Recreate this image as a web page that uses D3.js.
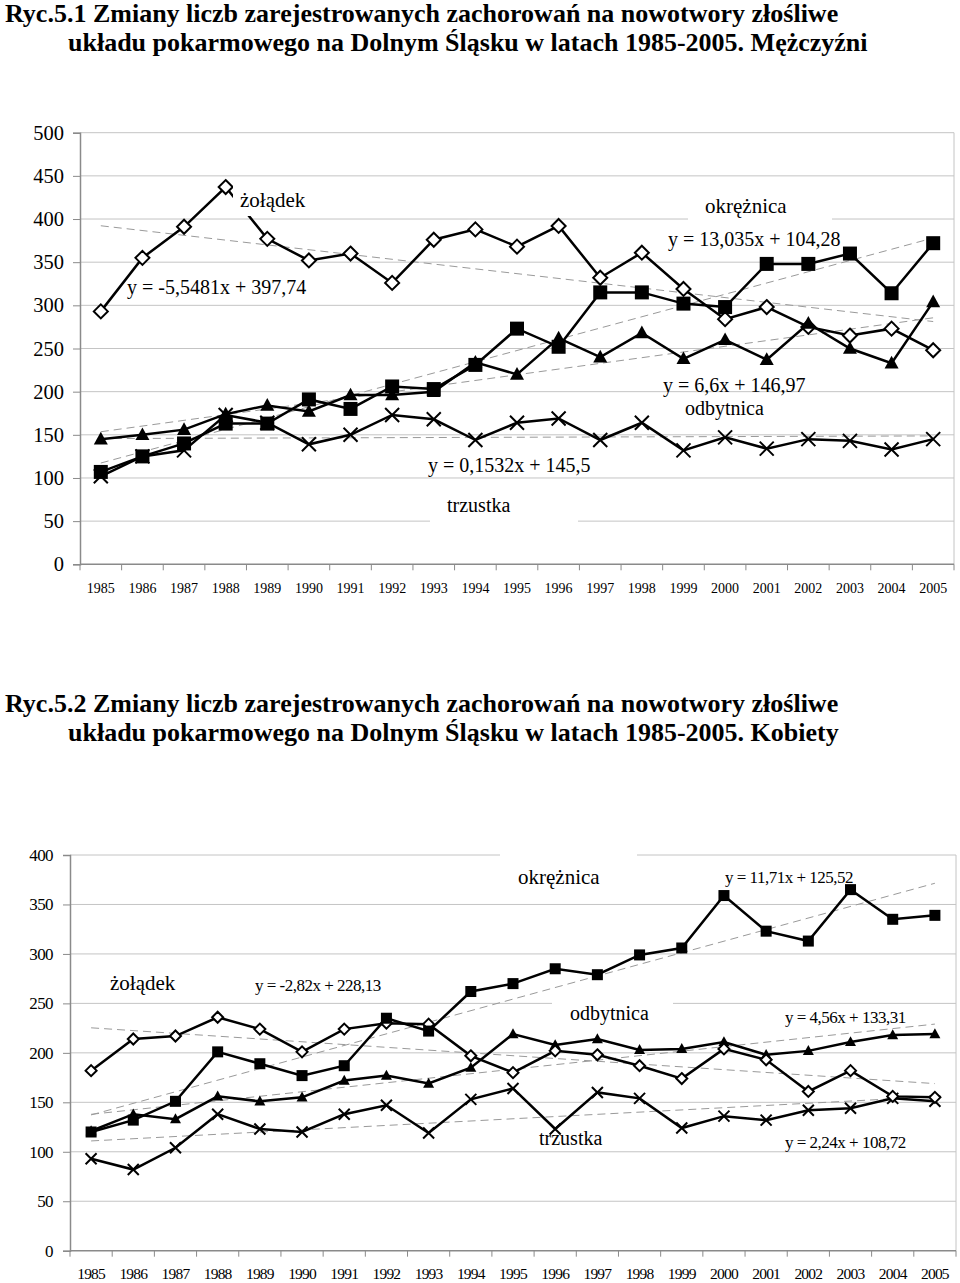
<!DOCTYPE html>
<html><head><meta charset="utf-8">
<script src="https://cdn.jsdelivr.net/npm/d3@7"></script>
<style>body{margin:0;background:#fff}svg{display:block}text{font-family:"Liberation Serif","Times New Roman",serif;fill:#000}</style>
</head><body><svg id="c" width="960" height="1283"></svg>
<script>
const years = d3.range(1985, 2006).map(String);

// Chart 1 – Mężczyźni
const m_zoladek = [293,355,391,437,377,352,360,326,376,388,368,392,332,361,319,284,298,275,265,273,248];
const m_okreznica = [107,125,140,163,163,191,180,206,203,231,273,252,315,315,302,298,348,348,360,314,372];
const m_odbytnica = [145,150,156,174,184,177,196,196,200,234,220,262,240,268,238,260,237,279,250,233,304];
const m_trzustka = [102,125,132,173,164,139,150,173,168,144,164,169,144,164,132,147,134,145,143,133,145];
const m_trend = {zoladek:[-5.5481,397.74], okreznica:[13.035,104.28], odbytnica:[6.6,146.97], trzustka:[0.1532,145.5]};
const m_yticks = [0,50,100,150,200,250,300,350,400,450,500];

// Chart 2 – Kobiety
const k_zoladek = [182,214,217,236,224,201,224,230,229,197,180,202,198,187,174,204,193,161,182,156,155];
const k_okreznica = [120,132,151,201,189,177,187,235,222,262,270,285,279,299,306,359,323,313,365,335,339];
const k_odbytnica = [121,138,133,156,151,155,172,177,169,185,219,208,214,203,204,211,198,202,211,218,219];
const k_trzustka = [93,82,104,138,123,120,138,147,119,153,164,123,160,154,124,136,132,142,144,154,151];
const k_trend = {zoladek:[-2.82,228.13], okreznica:[11.71,125.52], odbytnica:[4.56,133.31], trzustka:[2.24,108.72]};
const k_yticks = [0,50,100,150,200,250,300,350,400];

const svg = d3.select("#c");

function marker(g, type, cx, cy, r){
  if(type==="diamond"){
    g.append("path").attr("d",`M${cx},${cy-r}L${cx+r},${cy}L${cx},${cy+r}L${cx-r},${cy}Z`)
     .attr("fill","#fff").attr("stroke","#000").attr("stroke-width",2);
  } else if(type==="square"){
    g.append("rect").attr("x",cx-r).attr("y",cy-r).attr("width",2*r).attr("height",2*r).attr("fill","#000");
  } else if(type==="triangle"){
    g.append("path").attr("d",`M${cx},${cy-r*1.05}L${cx+r},${cy+r*0.75}L${cx-r},${cy+r*0.75}Z`).attr("fill","#000");
  } else {
    g.append("path").attr("d",`M${cx-r},${cy-r}L${cx+r},${cy+r}M${cx+r},${cy-r}L${cx-r},${cy+r}`)
     .attr("stroke","#000").attr("stroke-width",2).attr("fill","none");
  }
}

function chart(o){
  const x = d3.scaleBand().domain(years).range([o.left,o.right]);
  const y = d3.scaleLinear().domain([0,o.ymax]).range([o.bottom,o.top]);
  const g = svg.append("g");
  g.selectAll(".gl").data(o.yticks.filter(t=>t>0)).join("line")
   .attr("x1",o.left).attr("x2",o.right).attr("y1",d=>y(d)).attr("y2",d=>y(d))
   .attr("stroke","#c4c4c4").attr("stroke-width",1);
  g.append("line").attr("x1",o.right).attr("x2",o.right).attr("y1",o.top).attr("y2",o.bottom).attr("stroke","#c4c4c4");
  const ya = g.append("g").attr("transform",`translate(${o.left},0)`)
    .call(d3.axisLeft(y).tickValues(o.yticks).tickSize(7).tickPadding(o.ypad));
  ya.select(".domain").attr("stroke","#8a8a8a").attr("stroke-width",1.5);
  ya.selectAll(".tick line").attr("stroke","#8a8a8a");
  ya.selectAll("text").attr("font-family","Liberation Serif").attr("font-size",o.yfs).attr("letter-spacing",o.yls);
  g.append("line").attr("x1",o.left).attr("x2",o.right).attr("y1",o.bottom).attr("y2",o.bottom).attr("stroke","#8a8a8a").attr("stroke-width",1.5);
  g.selectAll(".xt").data(years.concat(["end"])).join("line")
   .attr("x1",d=>d==="end"?o.right:x(d)).attr("x2",d=>d==="end"?o.right:x(d))
   .attr("y1",o.bottom).attr("y2",o.bottom+6).attr("stroke","#8a8a8a");
  g.selectAll(".xl").data(years).join("text")
   .attr("x",d=>x(d)+x.bandwidth()/2).attr("y",o.xly).attr("text-anchor","middle")
   .attr("font-size",o.xfs).attr("letter-spacing",o.xls).text(d=>d);
  const cx = d=>x(d)+x.bandwidth()/2;
  Object.values(o.trend).forEach(([a,b])=>{
    g.append("line").attr("x1",cx(years[0])).attr("x2",cx(years[20]))
     .attr("y1",y(a*1+b)).attr("y2",y(a*21+b))
     .attr("stroke","#9a9a9a").attr("stroke-width",1).attr("stroke-dasharray","8,5");
  });
  (o.boxesBehind||[]).forEach(b=>g.append("rect").attr("x",b[0]).attr("y",b[1]).attr("width",b[2]).attr("height",b[3]).attr("fill","#fff"));
  o.series.forEach(s=>{
    const line = d3.line().x((d,i)=>cx(years[i])).y(d=>y(d));
    g.append("path").attr("d",line(s.data)).attr("fill","none").attr("stroke","#000").attr("stroke-width",2.5);
    s.data.forEach((d,i)=>marker(g,s.type,cx(years[i]),y(d),o.msize));
  });
  (o.boxesFront||[]).forEach(b=>g.append("rect").attr("x",b[0]).attr("y",b[1]).attr("width",b[2]).attr("height",b[3]).attr("fill","#fff"));
  o.labels.forEach(l=>g.append("text").attr("x",l[0]).attr("y",l[1]).attr("font-size",l[3]).attr("letter-spacing",l[4]||0).attr("dominant-baseline","central").text(l[2]));
}

function title(y1, t1, t2){
  svg.append("text").attr("x",5).attr("y",y1).attr("font-size",26).attr("font-weight","bold").text(t1);
  svg.append("text").attr("x",68).attr("y",y1+29).attr("font-size",26).attr("font-weight","bold").text(t2);
}
title(22,"Ryc.5.1 Zmiany liczb zarejestrowanych zachorowań na nowotwory złośliwe","układu pokarmowego na Dolnym Śląsku w latach 1985-2005. Mężczyźni");
title(712,"Ryc.5.2 Zmiany liczb zarejestrowanych zachorowań na nowotwory złośliwe","układu pokarmowego na Dolnym Śląsku w latach 1985-2005. Kobiety");

chart({left:80,right:954,top:132.7,bottom:564.3,ymax:500,yticks:m_yticks,yfs:20.5,yls:0,ypad:9,
  xfs:14,xls:0,xly:593,msize:7,trend:m_trend,
  series:[{type:"diamond",data:m_zoladek},{type:"x",data:m_trzustka},{type:"triangle",data:m_odbytnica},{type:"square",data:m_okreznica}],
  boxesBehind:[[430,483,148,44]],
  boxesFront:[[233,186,80,30],[688,186,144,34]],
  labels:[[240,200,"żołądek",21],[127,287,"y = -5,5481x + 397,74",20],[705,206,"okrężnica",21],[668,239,"y = 13,035x + 104,28",20],
          [663,385,"y = 6,6x + 146,97",20],[685,408,"odbytnica",20],[428,465,"y = 0,1532x + 145,5",20],[447,505,"trzustka",20]]
});

chart({left:70,right:956,top:855,bottom:1250.7,ymax:400,yticks:k_yticks,yfs:17,yls:-0.6,ypad:10,
  xfs:15.5,xls:-0.8,xly:1278.5,msize:5.5,trend:k_trend,
  series:[{type:"x",data:k_trzustka},{type:"triangle",data:k_odbytnica},{type:"diamond",data:k_zoladek},{type:"square",data:k_okreznica}],
  boxesBehind:[[500,851,137,46],[552,991,121,42]],
  labels:[[110,983,"żołądek",21],[255,985,"y = -2,82x + 228,13",17,-0.5],[518,877,"okrężnica",21],[725,877,"y = 11,71x + 125,52",17,-0.5],
          [570,1013,"odbytnica",20],[785,1017,"y = 4,56x + 133,31",17,-0.5],[539,1138,"trzustka",20],[785,1142,"y = 2,24x + 108,72",17,-0.5]]
});
</script></body></html>
